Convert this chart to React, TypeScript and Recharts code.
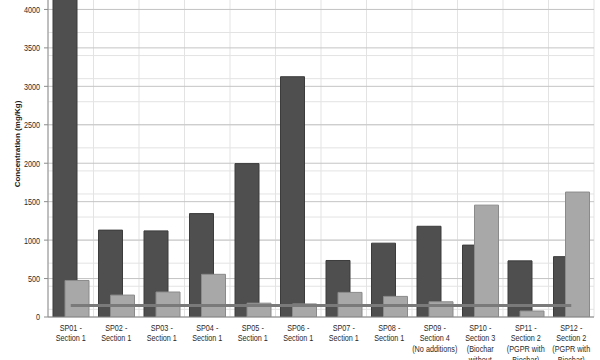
import React from 'react';
import { ComposedChart, Bar, Line, XAxis, YAxis, CartesianGrid } from 'recharts';

const categories = [
  'SP01 -\nSection 1',
  'SP02 -\nSection 1',
  'SP03 -\nSection 1',
  'SP04 -\nSection 1',
  'SP05 -\nSection 1',
  'SP06 -\nSection 1',
  'SP07 -\nSection 1',
  'SP08 -\nSection 1',
  'SP09 -\nSection 4\n(No additions)',
  'SP10 -\nSection 3\n(Biochar\nwithout',
  'SP11 -\nSection 2\n(PGPR with\nBiochar)',
  'SP12 -\nSection 2\n(PGPR with\nBiochar)',
];
const darkValues = [4300, 1130, 1120, 1345, 1995, 3125, 735, 960, 1180, 935, 730, 785];
const lightValues = [475, 285, 325, 555, 180, 170, 320, 268, 198, 1455, 78, 1625];
const limitValues = [150, 150, 150, 150, 150, 150, 150, 150, 150, 150, 150, 150];
const yTicks = [0, 500, 1000, 1500, 2000, 2500, 3000, 3500, 4000, 4500];
const minorTicks = Array.from({ length: 46 }, (_, i) => i * 100);

const data = categories.map((name, i) => ({
  name,
  dark: darkValues[i],
  light: lightValues[i],
  limit: limitValues[i],
}));

const FONT = '"Liberation Sans", Arial, sans-serif';

// category boundaries for the vertical grid lines
const bandEdges = ({ xAxis, offset }: any) => {
  const s = xAxis && xAxis.scale;
  let f: any = null;
  if (typeof s === 'function') f = s;
  else if (s && typeof s.map === 'function') f = (v: any) => s.map(v);
  let bw = 0;
  if (s && typeof s.bandwidth === 'function') bw = s.bandwidth();
  const first = f ? f(categories[0]) : undefined;
  if (f && typeof first === 'number' && !isNaN(first) && bw > 0) {
    const pts = categories.map((c) => f(c));
    return [...pts, f(categories[categories.length - 1]) + bw];
  }
  const step = offset.width / categories.length;
  return [...categories.map((_, i) => offset.left + i * step), offset.left + offset.width];
};

const XTick = ({ x, y, payload }: any) => {
  const lines = String(payload.value).split('\n');
  return (
    <g transform={`translate(${x},${y})`}>
      <text transform="scale(0.74,1)" textAnchor="middle" fontSize={9.8} fill="#2a2a2a" fontFamily={FONT}>
        {lines.map((l, i) => (
          <tspan key={i} x={0} dy={i === 0 ? 5.5 : 10.7}>
            {l}
          </tspan>
        ))}
      </text>
    </g>
  );
};

const YTick = ({ x, y, payload }: any) => (
  <g transform={`translate(${x},${y})`}>
    <text transform="scale(0.74,1)" textAnchor="end" dy="0.35em" fontSize={9.8} fill="#2a2a2a" fontFamily={FONT}>
      {payload.value}
    </text>
  </g>
);

const App = () => {
  return (
    <div style={{ position: 'absolute', left: 0, top: 0, width: 600, height: 360, overflow: 'hidden', background: '#fff' }}>
      <div style={{ position: 'absolute', left: 0, top: -29 }}>
        <ComposedChart
          width={600}
          height={400}
          data={data}
          margin={{ top: 0, right: 6, bottom: 0, left: 0 }}
          barSize={24}
          barGap={-12}
        >
          <CartesianGrid horizontalValues={minorTicks} stroke="#e3e3e3" verticalCoordinatesGenerator={bandEdges} />
          <CartesianGrid horizontalValues={yTicks} vertical={false} stroke="#c4c4c4" />
          <XAxis
            dataKey="name"
            height={54}
            interval={0}
            tickLine={false}
            axisLine={{ stroke: '#8c8c8c' }}
            tick={<XTick />}
          />
          <YAxis
            width={48}
            domain={[0, 4500]}
            ticks={yTicks}
            allowDataOverflow
            tickLine={{ stroke: '#8c8c8c' }}
            tickSize={4}
            tickMargin={4}
            axisLine={{ stroke: '#8c8c8c' }}
            tick={<YTick />}
            label={{
              value: 'Concentration (mg/Kg)',
              angle: -90,
              position: 'insideLeft',
              offset: 17,
              style: { textAnchor: 'middle', fontSize: 8, fontWeight: 'bold', fill: '#1a1a1a', fontFamily: FONT },
            }}
          />
          <Bar dataKey="dark" fill="#4f4f4f" stroke="#3c3c3c" strokeWidth={1} isAnimationActive={false} />
          <Bar dataKey="light" fill="#a8a8a8" stroke="#8a8a8a" strokeWidth={1} isAnimationActive={false} />
          <Line
            dataKey="limit"
            stroke="#7a7a7a"
            strokeWidth={3}
            dot={false}
            activeDot={false}
            isAnimationActive={false}
          />
        </ComposedChart>
      </div>
    </div>
  );
};

export default App;
